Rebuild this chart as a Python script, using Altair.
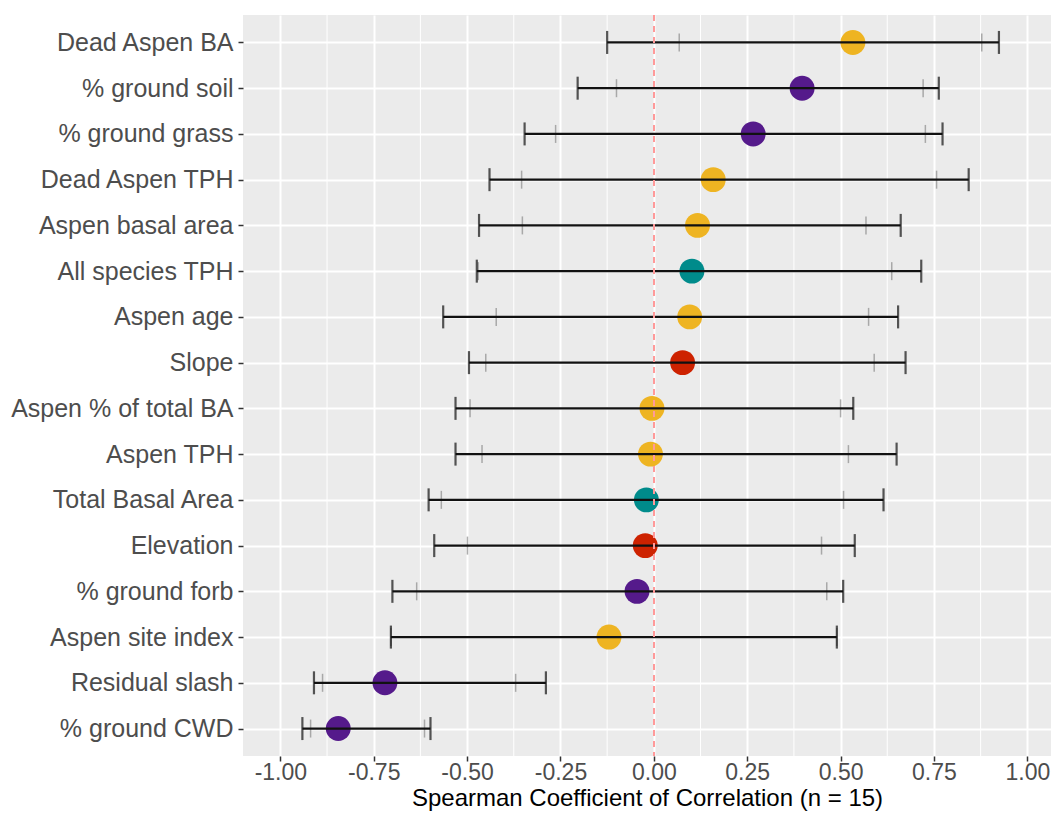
import altair as alt
import pandas as pd

variables = ["Dead Aspen BA", "% ground soil", "% ground grass", "Dead Aspen TPH",
             "Aspen basal area", "All species TPH", "Aspen age", "Slope",
             "Aspen % of total BA", "Aspen TPH", "Total Basal Area", "Elevation",
             "% ground forb", "Aspen site index", "Residual slash", "% ground CWD"]
groups = ["Aspen", "Ground", "Ground", "Aspen", "Aspen", "Stand", "Aspen", "Topo",
          "Aspen", "Aspen", "Stand", "Topo", "Ground", "Aspen", "Ground", "Ground"]
rho = [0.533, 0.397, 0.266, 0.159, 0.117, 0.102, 0.096, 0.077,
       -0.005, -0.009, -0.020, -0.023, -0.045, -0.120, -0.720, -0.845]
ci_low = [-0.125, -0.204, -0.346, -0.440, -0.468, -0.474, -0.564, -0.495,
          -0.531, -0.531, -0.603, -0.588, -0.700, -0.704, -0.910, -0.941]
ci_high = [0.924, 0.763, 0.773, 0.843, 0.661, 0.716, 0.654, 0.674,
           0.534, 0.650, 0.615, 0.538, 0.507, 0.490, -0.289, -0.598]
inner_low = [0.068, -0.100, -0.263, -0.354, -0.352, -0.470, -0.422, -0.450,
             -0.492, -0.460, -0.569, -0.499, -0.635, -0.704, -0.887, -0.919]
inner_high = [0.878, 0.721, 0.727, 0.757, 0.568, 0.637, 0.575, 0.590,
              0.500, 0.521, 0.508, 0.449, 0.463, 0.490, -0.370, -0.614]

group_names = ["Aspen", "Ground", "Stand", "Topo"]
group_colors = ["#EEB422", "#551A8B", "#008B8B", "#CD2200"]

major_ticks = [-1.0, -0.75, -0.5, -0.25, 0.0, 0.25, 0.5, 0.75, 1.0]
minor_ticks = [-0.875, -0.625, -0.375, -0.125, 0.125, 0.375, 0.625, 0.875]

df = pd.DataFrame({"var": variables, "group": groups, "rho": rho,
                   "lo": ci_low, "hi": ci_high, "ilo": inner_low, "ihi": inner_high})
minor_df = pd.DataFrame({"m": minor_ticks})

FONT = "Liberation Sans"

xscale = alt.Scale(domain=[-1.1, 1.0634], nice=False, zero=False)
yscale = alt.Scale(type="point", padding=0.6, domain=variables)

x_axis = alt.Axis(values=major_ticks, title="Spearman Coefficient of Correlation (n = 15)",
                  labelExpr="(datum.value < 0 ? '-' : '') + format(abs(datum.value), '.2f')",
                  grid=True, gridColor="white", gridWidth=2, domain=False,
                  tickSize=5, tickColor="#333333", tickWidth=1.5,
                  labelFontSize=23, labelColor="#4D4D4D", labelPadding=0, labelFont=FONT,
                  titleFontSize=24, titleColor="black", titleFontWeight="normal",
                  titleFont=FONT, titlePadding=2)
y_axis = alt.Axis(title=None, grid=True, gridColor="white", gridWidth=2, domain=False,
                  tickSize=5, tickColor="#333333", tickWidth=1.5, labelLimit=400,
                  labelFontSize=25, labelColor="#4D4D4D", labelPadding=5, labelFont=FONT)

base = alt.Chart(df)

minor = alt.Chart(minor_df).mark_rule(color="white", strokeWidth=1).encode(
    x=alt.X("m:Q", scale=xscale, axis=x_axis))

points = base.mark_circle(size=620, opacity=1).encode(
    x=alt.X("rho:Q", scale=xscale, axis=x_axis),
    y=alt.Y("var:N", scale=yscale, axis=y_axis, sort=variables),
    color=alt.Color("group:N", scale=alt.Scale(domain=group_names, range=group_colors), legend=None))

inner_caps_lo = base.mark_tick(color="#8C8C8C", size=18, thickness=1.5, orient="vertical").encode(
    x=alt.X("ilo:Q", scale=xscale), y=alt.Y("var:N", scale=yscale, sort=variables))
inner_caps_hi = base.mark_tick(color="#8C8C8C", size=18, thickness=1.5, orient="vertical").encode(
    x=alt.X("ihi:Q", scale=xscale), y=alt.Y("var:N", scale=yscale, sort=variables))

bar = base.mark_rule(color="#111111", strokeWidth=2.2, opacity=1).encode(
    x=alt.X("lo:Q", scale=xscale), x2="hi:Q", y=alt.Y("var:N", scale=yscale, sort=variables))
caps_lo = base.mark_tick(color="#111111", size=23, thickness=2.2, orient="vertical").encode(
    x=alt.X("lo:Q", scale=xscale), y=alt.Y("var:N", scale=yscale, sort=variables))
caps_hi = base.mark_tick(color="#111111", size=23, thickness=2.2, orient="vertical").encode(
    x=alt.X("hi:Q", scale=xscale), y=alt.Y("var:N", scale=yscale, sort=variables))

zero_line = alt.Chart(df).mark_rule(color="#FF9A9A", strokeWidth=1.5, strokeDash=[6, 5]).encode(
    x=alt.datum(0, scale=xscale))

chart = alt.layer(minor, points, inner_caps_lo, inner_caps_hi, bar, caps_lo, caps_hi, zero_line).properties(
    width=808, height=741,
    autosize=alt.AutoSizeParams(type="none"),
    padding={"left": 243, "top": 15, "right": 0, "bottom": 58},
    background="white",
).configure_view(fill="#EBEBEB", stroke=None)

chart.save("out.html", embed_options={"renderer": "svg", "actions": False})
